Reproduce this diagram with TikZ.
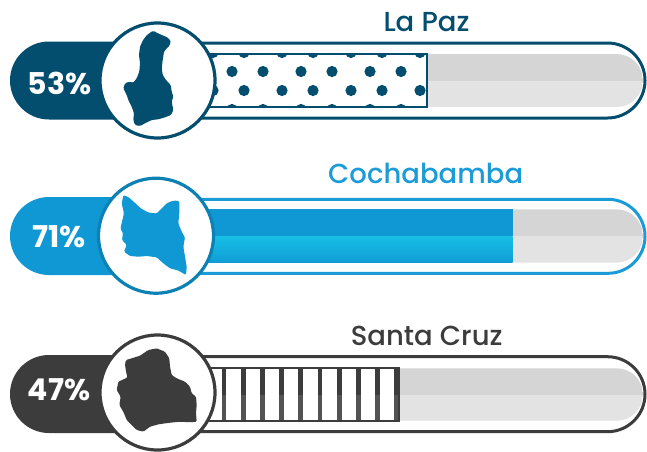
\documentclass[tikz,border=0pt]{standalone}
\usepackage{fontspec}
\newfontfamily\pctfont{Poppins}[UprightFont=* Bold]
\newfontfamily\ttlfont{Poppins}[UprightFont=* Medium]
\definecolor{lpz}{HTML}{034E6E}
\definecolor{cba}{HTML}{0F98D4}
\definecolor{cbaL}{HTML}{17BFE5}
\definecolor{cbaT}{HTML}{1B9BD7}
\definecolor{scz}{HTML}{3C3C3C}
\definecolor{gtop}{HTML}{D5D5D5}
\definecolor{gbot}{HTML}{E3E3E3}
\tikzset{
  ttl/.style={font=\ttlfont\fontsize{27.5}{29}\selectfont, inner sep=0pt, anchor=base},
  pct/.style={font=\pctfont\fontsize{30}{31}\selectfont, text=white, inner sep=0pt, anchor=base},
  outline/.style={line width=3pt, fill=white},
  ring/.style={line width=3.2pt, fill=white},
  mapshape/.style={rounded corners=1.2pt},
}
\begin{document}
\begin{tikzpicture}[x=1pt,y=-1pt]
\useasboundingbox (0,0) rectangle (647,451);

% ================= Row 1 : La Paz =================
\draw[outline, draw=lpz, rounded corners=37.5pt] (160,43) -- (645,43) -- (645,118) -- (160,118);
\begin{scope}
  \clip[rounded corners=26.5pt] (100,54) -- (643,54) -- (643,107) -- (100,107) -- cycle;
  \fill[gtop] (100,54) rectangle (643,80.5);
  \fill[gbot] (100,80.5) rectangle (643,107);
\end{scope}
\fill[white] (160,54) rectangle (427,107);
\begin{scope}
  \clip (160,54) rectangle (427,107);
  \foreach \x in {144,182,213,244,282,313,351,382,420,451}{
    \fill[lpz] (\x,52.5) circle[radius=5.6];
    \fill[lpz] (\x,90.5) circle[radius=5.6];
    \fill[lpz] (\x+19,71.5) circle[radius=5.6];
    \fill[lpz] (\x+19,109.5) circle[radius=5.6];
  }
\end{scope}
\draw[lpz, line width=1.8pt] (160,54) rectangle (427,107);
\fill[lpz, rounded corners=39pt] (165,41.5) -- (10,41.5) -- (10,119.5) -- (165,119.5) -- cycle;
\draw[ring, draw=lpz] (157.5,80.5) circle[radius=57.5];
\fill[lpz, mapshape] (150,32.7) -- (153.3,30.7) -- (156.7,32.7) -- (161.7,35) -- (167.3,37.3)
  -- (170.7,40.7) -- (170,45) -- (166.7,48.3) -- (164,51.7) -- (162.7,60) -- (161.7,68.3)
  -- (162.7,75) -- (166,80) -- (170.7,85) -- (171.7,91.7) -- (173.3,96.7) -- (171.7,101.7)
  -- (173.3,110) -- (171,115) -- (165,117.3) -- (158.3,119.3) -- (151.7,120) -- (145,123.3)
  -- (140,126) -- (135,125) -- (133.3,120) -- (134,113.3) -- (131.7,106.7) -- (128.3,100)
  -- (126.7,95) -- (125,91.7) -- (123.3,88.3) -- (125,83.3) -- (129.3,81.7) -- (133.3,82.7)
  -- (136.7,78.3) -- (139.3,71.7) -- (140,63.3) -- (139,55) -- (140,46.7) -- (142.7,40.7)
  -- (146,36) -- cycle;
\node[ttl, text=lpz] (t1) at (426.5,31.7) {La Paz};
\node[pct] (p1) at (59.5,94) {53\%};

% ================= Row 2 : Cochabamba =================
\draw[outline, draw=cbaT, rounded corners=37pt] (160,199.3) -- (645,199.3) -- (645,273.3) -- (160,273.3);
\begin{scope}
  \clip[rounded corners=26.7pt] (100,209.3) -- (643,209.3) -- (643,262.7) -- (100,262.7) -- cycle;
  \fill[gtop] (100,209.3) rectangle (643,236);
  \fill[gbot] (100,236) rectangle (643,262.7);
\end{scope}
\fill[cba] (160,209.3) rectangle (512.7,236);
\shade[top color=cbaL, bottom color=cba!90!cbaL] (160,236) rectangle (512.7,262.7);
\fill[cba, rounded corners=39pt] (165,197) -- (10,197) -- (10,275) -- (165,275) -- cycle;
\draw[ring, draw=cba!85!black] (156,235.7) circle[radius=57.5];
\fill[cba, mapshape] (123.5,195) -- (129,197.5) -- (135,203) -- (141,208.5) -- (148.3,212.5)
  -- (156.7,213.5) -- (161.7,208.3) -- (166.7,203.3) -- (172,201) -- (176.5,200.5)
  -- (179.5,201.5) -- (179.3,213.3) -- (178.3,223.3) -- (181.7,231.7) -- (185,237.5)
  -- (183.3,246.7) -- (185,256.7) -- (186.7,266.7) -- (186,275) -- (178.3,270.5)
  -- (170,268.3) -- (163.3,263.3) -- (156.7,257.3) -- (146.7,256) -- (138.3,256.7)
  -- (130,256) -- (124,251.7) -- (126.7,245) -- (122,240) -- (123,233.3) -- (120.5,228.3)
  -- (122,221.7) -- (124,213.3) -- (121.7,203.3) -- cycle;
\node[ttl, text=cbaT] (t2) at (425.7,183.3) {Cochabamba};
\node[pct] (p2) at (58.8,247.3) {71\%};

% ================= Row 3 : Santa Cruz =================
\draw[outline, draw=scz, rounded corners=37.5pt] (160,356.7) -- (645,356.7) -- (645,431.7) -- (160,431.7);
\begin{scope}
  \clip[rounded corners=26.2pt] (100,368.3) -- (643,368.3) -- (643,420.7) -- (100,420.7) -- cycle;
  \fill[gtop] (100,368.3) rectangle (643,394.5);
  \fill[gbot] (100,394.5) rectangle (643,420.7);
\end{scope}
\fill[white] (160,368.3) rectangle (399,420.7);
\foreach \k in {0,...,9}{
  \fill[scz] (224+19.2*\k-2.4,368.3) rectangle (224+19.2*\k+2.4,394.5);
  \fill[scz!88!white] (224+19.2*\k-2.4,394.5) rectangle (224+19.2*\k+2.4,420.7);
}
\draw[scz, line width=1.8pt] (160,368.3) rectangle (399,420.7);
\fill[scz, rounded corners=39pt] (165,355) -- (10,355) -- (10,433) -- (165,433) -- cycle;
\draw[ring, draw=scz] (157.5,392.5) circle[radius=57.5];
\fill[scz, mapshape] (125,364.3) -- (126,371.7) -- (127.5,377.5) -- (118.3,381.7) -- (116.7,390)
  -- (120.7,396.7) -- (119.3,405) -- (123.3,411.7) -- (126.7,420) -- (131.7,425) -- (136.7,430)
  -- (143.3,431.7) -- (150,426.7) -- (158.3,424.3) -- (170,422.7) -- (180,421.7) -- (190,422.3)
  -- (196.7,421.7) -- (196,413.3) -- (196.7,405) -- (196,396.7) -- (191.7,393.3) -- (190,386.7)
  -- (185,381.7) -- (176.7,378.3) -- (171.7,375) -- (170,366.7) -- (169.3,358.3) -- (165,351.7)
  -- (156.7,348.3) -- (148.3,350) -- (140,355.7) -- (131.7,358.3) -- (126,360) -- cycle;
\node[ttl, text=scz] (t3) at (426.7,345) {Santa Cruz};
\node[pct] (p3) at (59.2,400) {47\%};
\end{tikzpicture}
\end{document}
